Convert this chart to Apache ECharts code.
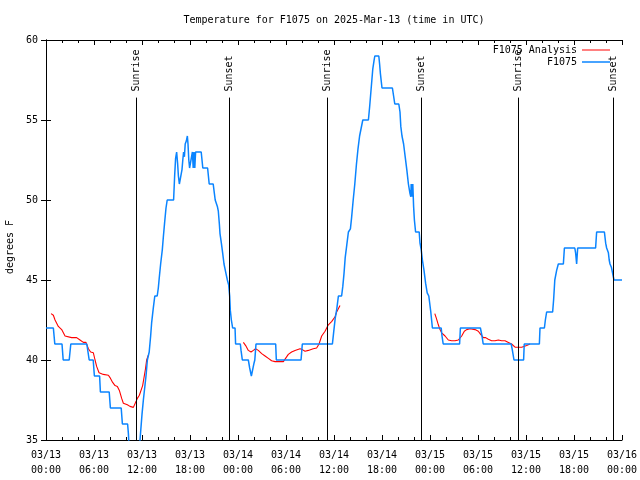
<!DOCTYPE html>
<html><head><meta charset="utf-8">
<script src="https://cdn.jsdelivr.net/npm/echarts@6/dist/echarts.min.js"></script>
<style>html,body{margin:0;padding:0;background:#fff}#c{width:640px;height:480px}</style>
</head><body><div id="c"></div>
<script>
const FONT = 'DejaVu Sans Mono';
const titleText = 'Temperature for F1075 on 2025-Mar-13 (time in UTC)';
const yName = 'degrees F';
// x = hours after 2025-03-13 00:00 UTC
const tickLabels = ['03/13\n00:00','03/13\n06:00','03/13\n12:00','03/13\n18:00',
  '03/14\n00:00','03/14\n06:00','03/14\n12:00','03/14\n18:00',
  '03/15\n00:00','03/15\n06:00','03/15\n12:00','03/15\n18:00','03/16\n00:00'];

const blueHours = [0,0.92,1.1,2.0,2.15,2.9,3.1,5.1,5.4,5.9,6.05,6.7,6.8,7.9,8.05,9.4,9.55,10.2,10.3,10.45,11.6,11.75,
  12.0,12.17,12.5,12.67,12.9,13.08,13.2,13.4,13.6,13.9,14.04,14.17,14.33,14.54,14.67,14.83,15.0,15.15,15.95,16.08,16.2,16.33,
  16.45,16.55,16.67,16.9,17.0,17.1,17.2,17.3,17.4,17.55,17.67,17.75,17.85,17.95,18.2,18.3,18.4,18.5,18.6,18.7,19.4,19.5,19.6,
  20.2,20.3,20.4,20.9,21.05,21.15,21.35,21.42,21.54,21.67,21.75,21.92,22.08,22.25,22.5,22.67,22.83,22.96,23.04,23.17,23.33,
  23.63,23.7,24.29,24.38,24.54,25.29,25.46,25.67,25.83,26.0,26.1,26.25,28.71,28.79,31.88,32.04,35.8,
  35.95,36.15,36.35,36.55,36.95,37.1,37.25,37.4,37.6,37.8,38.05,38.2,38.4,38.6,38.8,39.0,39.2,39.4,39.6,40.3,40.45,40.7,40.85,
  41.0,41.1,41.6,41.7,41.8,42.0,43.3,43.45,43.6,44.1,44.25,44.35,44.5,44.7,44.9,45.1,45.3,45.5,45.6,45.65,45.75,45.85,45.95,
  46.05,46.2,46.65,46.75,46.9,47.05,47.25,47.45,47.65,47.85,48.1,48.3,49.4,49.5,49.65,51.7,51.8,54.3,54.5,54.65,58.15,58.3,
  58.5,59.7,59.78,61.67,61.75,62.3,62.42,62.58,63.33,63.45,63.6,63.83,64.04,64.67,64.8,66.1,66.2,66.33,66.46,68.7,68.83,69.8,
  69.96,70.08,70.3,70.4,70.5,70.67,70.83,71.0,72];
const blueTemps = [42,42,41,41,40,40,41,41,40,40,39,39,38,38,37,37,36,36,35.4,34,34,35,
  36.6,37.5,39,40,40.5,41.5,42.3,43.2,44,44,44.5,45.2,46,46.9,47.7,48.6,49.5,50,50,51.5,52.6,53,
  52.3,51.5,51,51,51.9,52.5,53,52.7,53.5,53.7,54,53.5,52.5,52,52,53,52,53,52,53,53,52.5,52,
  52,51.5,51,51,50.4,50,50,49.6,49.3,48.5,47.9,47.3,46.7,46,45.4,45,44.7,44,43.1,42.5,42,
  42,41,41,40.6,40,40,39.5,39,39,39.8,40,41,41,40,40,41,41,
  41.7,42.6,43.2,44,44,44.6,45.4,46.4,47.2,48,48.2,48.9,50,51,52.2,53.2,54,54.5,55,55,55.8,57.3,58.2,
  58.7,59,59,58.5,57.9,57,57,56.5,56,56,55.5,54.6,54,53.5,52.7,51.9,51,50.4,50.2,51,50.2,51,49.6,
  48.75,48,48,47.3,46.9,46.25,45.6,44.8,44.2,44,43,42,42,41.5,41,41,42,42,41.5,41,41,40.6,
  40,40,41,41,42,42,42.5,43,43,43.75,45,45.6,46,46,47,47,46.7,46,47,47,48,48,
  47.3,47,46.7,46.25,46,45.8,45.7,45,45];

// analysis series; null marks a gap between runs
const redHours = [0.63,0.92,1.13,1.54,1.96,2.17,2.38,2.58,3.2,3.83,4.25,4.67,5.0,5.3,5.58,5.92,6.13,6.33,6.63,7.17,7.8,8.0,8.33,
  8.63,8.92,9.17,9.46,9.67,10.17,10.5,10.92,11.25,11.42,11.67,11.83,12.08,12.25,12.42,12.58,12.79,
  18,
  24.67,24.96,25.29,25.63,25.92,26.2,26.54,26.96,27.38,27.8,28.2,28.63,29.67,29.88,30.29,30.7,31.13,31.75,32.04,32.38,32.8,
  33.4,33.83,34.13,34.46,34.88,35.29,35.7,36.13,36.33,36.75,
  42,
  48.6,48.8,49.04,49.25,49.46,49.67,49.88,50.08,50.29,50.7,51.13,51.54,51.96,52.29,52.58,53.0,53.63,54.04,54.33,54.67,54.96,
  55.29,55.7,56.13,56.54,56.96,57.38,57.8,58.2,58.63,59.04,59.46,59.67,60.08,60.5];
const redTemps = [42.9,42.8,42.5,42.1,41.9,41.7,41.5,41.4,41.4,41.4,41.25,41.1,41.1,40.7,40.5,40.45,40,39.6,39.2,39.1,39.05,38.9,38.6,
  38.4,38.35,38.1,37.6,37.3,37.2,37.1,37.04,37.4,37.6,37.8,37.85,38.4,38.9,39.4,40,40.3,
  null,
  41.1,40.9,40.6,40.5,40.6,40.7,40.6,40.4,40.25,40.1,39.95,39.9,39.9,40,40.35,40.5,40.6,40.7,40.65,40.55,40.6,
  40.7,40.75,41,41.5,41.8,42.2,42.4,42.7,43.0,43.4,
  null,
  42.9,42.6,42.2,41.9,41.7,41.6,41.5,41.4,41.25,41.2,41.2,41.25,41.5,41.8,41.9,41.95,41.9,41.8,41.6,41.4,41.4,
  41.3,41.2,41.2,41.25,41.2,41.2,41.1,41.0,40.8,40.8,40.8,40.85,40.9,41.0];

const sunHours = [11.29, 22.91, 35.12, 46.91, 59.04, 70.91];
const sunNames = ['Sunrise','Sunset','Sunrise','Sunset','Sunrise','Sunset'];
const SUN_TOP = 56.4;

const blueData = blueHours.map((h, i) => [h, blueTemps[i]]);
const redData = redHours.map((h, i) => [h, redTemps[i] === null ? '-' : redTemps[i]]);

const sunLines = [];
sunHours.forEach((h, i) => {
  sunLines.push([
    {coord: [h, SUN_TOP], lineStyle: {color: 'rgba(0,0,0,0)'},
     label: {show: true, formatter: sunNames[i], position: 'insideStart', distance: 6, color: '#000'}},
    {coord: [h, 60]}
  ]);
  sunLines.push([{coord: [h, SUN_TOP]}, {coord: [h, 35]}]);
});

const txt = {fontFamily: FONT, fontSize: 10, color: '#000'};
const axLine = {show: true, lineStyle: {color: '#000', width: 1}};

const chart = echarts.init(document.getElementById('c'), null, {renderer: 'canvas'});
chart.setOption({
  animation: false,
  backgroundColor: '#fff',
  title: {text: titleText, left: 334, top: 15, textAlign: 'center', padding: 0,
    textStyle: {fontFamily: FONT, fontSize: 10, fontWeight: 'normal', color: '#000'}},
  legend: [
    {data: [{name: 'F1075 Analysis', icon: 'rect'}], right: 30, top: 45, padding: 0, orient: 'vertical', align: 'right',
      itemWidth: 28, itemHeight: 1, textStyle: txt},
    {data: [{name: 'F1075', icon: 'rect'}], right: 30, top: 57, padding: 0, orient: 'vertical', align: 'right',
      itemWidth: 28, itemHeight: 1.5, textStyle: txt}
  ],
  grid: {left: 46, right: 18, top: 40, bottom: 40, containLabel: false, outerBoundsMode: 'none'},
  xAxis: [
    {type: 'value', min: 0, max: 72, interval: 6, position: 'bottom',
      axisLine: axLine, splitLine: {show: false},
      axisTick: {show: true, inside: true, length: 5, lineStyle: {color: '#000'}},
      minorTick: {show: true, splitNumber: 3, length: 3, lineStyle: {color: '#000'}},
      axisLabel: {show: true, margin: 8, lineHeight: 15, fontFamily: FONT, fontSize: 10, color: '#000',
        showMinLabel: true, showMaxLabel: true,
        formatter: v => tickLabels[Math.round(v / 6)]}},
    {type: 'value', min: 0, max: 72, interval: 6, position: 'top',
      axisLine: axLine, splitLine: {show: false},
      axisTick: {show: true, inside: true, length: 5, lineStyle: {color: '#000'}},
      minorTick: {show: true, splitNumber: 3, length: 3, lineStyle: {color: '#000'}},
      axisLabel: {show: false}}
  ],
  yAxis: [
    {type: 'value', min: 35, max: 60, interval: 5, position: 'left',
      name: yName, nameLocation: 'middle', nameGap: 30,
      nameTextStyle: {fontFamily: FONT, fontSize: 10, color: '#000', padding: [0, 14, 0, 0]},
      axisLine: axLine, splitLine: {show: false},
      axisTick: {show: true, inside: true, length: 5, lineStyle: {color: '#000'}},
      axisLabel: {margin: 8, fontFamily: FONT, fontSize: 10, color: '#000'}},
    {type: 'value', min: 35, max: 60, interval: 5, position: 'right',
      axisLine: axLine, splitLine: {show: false},
      axisTick: {show: true, inside: true, length: 5, lineStyle: {color: '#000'}},
      axisLabel: {show: false}}
  ],
  series: [
    {name: 'F1075 Analysis', type: 'line', data: redData, symbol: 'none', showSymbol: false,
      connectNulls: false, clip: true, lineStyle: {color: '#ff0000', width: 1.1}, itemStyle: {color: '#ff0000'}, z: 3},
    {name: 'F1075', type: 'line', data: blueData, symbol: 'none', showSymbol: false,
      clip: true, lineStyle: {color: '#0a84ff', width: 1.5}, itemStyle: {color: '#0a84ff'}, z: 4,
      markLine: {silent: true, symbol: ['none', 'none'], animation: false,
        lineStyle: {color: '#000', width: 1, type: 'solid'},
        label: {show: false, fontFamily: FONT, fontSize: 10, color: '#000'},
        data: sunLines}}
  ]
});
</script>
</body></html>
